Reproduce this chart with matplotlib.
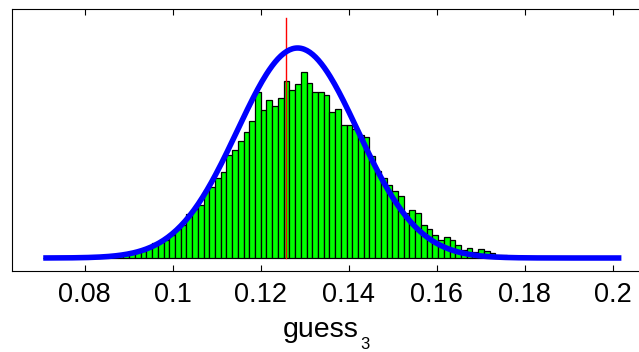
import numpy as np
import matplotlib as mpl
mpl.use('Agg')
import matplotlib.pyplot as plt

# histogram of guess_3 samples: 100 bins, counts
bin_lo = 0.07064
bin_w = 0.0013
counts = [0, 0, 0, 0, 0, 0, 0, 0, 0, 0,
          0, 0, 2, 4, 9, 11, 13, 15, 21, 31,
          33, 37, 46, 58, 67, 88, 98, 106, 137, 143,
          161, 172, 206, 216, 234, 253, 275, 333, 297, 316,
          304, 321, 355, 337, 349, 372, 351, 333, 333, 327,
          293, 298, 267, 266, 258, 246, 243, 205, 174, 160,
          147, 134, 124, 91, 97, 91, 66, 59, 47, 37,
          42, 37, 26, 16, 21, 13, 19, 15, 10, 7,
          6, 4, 2, 2, 0, 0, 0, 0, 0, 0,
          0, 0, 0, 0, 0, 0, 0, 0, 0, 0]

# fitted normal curve (mean, std, peak height) and its x range
fit_mu = 0.1284
fit_sd = 0.0137
fit_peak = 420.
fit_range = (0.0706, 0.2020)

# marked value
x_mark = 0.1257
mark_top = 480.

xticks = [0.08, 0.10, 0.12, 0.14, 0.16, 0.18, 0.20]
xtick_lbl = ['0.08', '0.1', '0.12', '0.14', '0.16', '0.18', '0.2']

plt.rcParams['font.family'] = ['Liberation Sans', 'DejaVu Sans']

fig = plt.figure(figsize=(6.39, 3.52), dpi=100, facecolor='w')
# right side of the box runs off the picture
ax = fig.add_axes([12/639., 81/352., 636/639., 262/352.])

nb = len(counts)
edges = bin_lo + bin_w*np.arange(nb)
ax.bar(edges, counts, width=bin_w, align='edge', color='#00ff00',
       edgecolor='k', linewidth=0.9, zorder=2)

xx = np.linspace(fit_range[0], fit_range[1], 400)
yy = fit_peak*np.exp(-0.5*((xx - fit_mu)/fit_sd)**2)
ax.plot(xx, yy, '-', color='#0000ff', linewidth=4.0, solid_capstyle='butt', zorder=4)

ax.plot([x_mark, x_mark], [0, mark_top], '-', color='#ff0000', linewidth=1.0, zorder=3)

ax.set_xlim(0.0635, 0.0635 + 636./4400.)
ax.set_ylim(-26, 498)
ax.set_xticks(xticks)
ax.set_xticklabels(xtick_lbl)
ax.set_yticks([])
ax.tick_params(axis='x', direction='in', top=True, length=4, width=0.8,
               labelsize=19.5, pad=8)
for sp in ax.spines.values():
    sp.set_linewidth(0.8)

# x label with a low subscript, as in the original
fig.text(283/639., (352-337)/352., 'guess', fontsize=20.5, ha='left', va='baseline')
fig.text(360/639., (352-349)/352., '3', fontsize=12, ha='left', va='baseline')

plt.savefig('out.png', dpi=100, facecolor='w')
